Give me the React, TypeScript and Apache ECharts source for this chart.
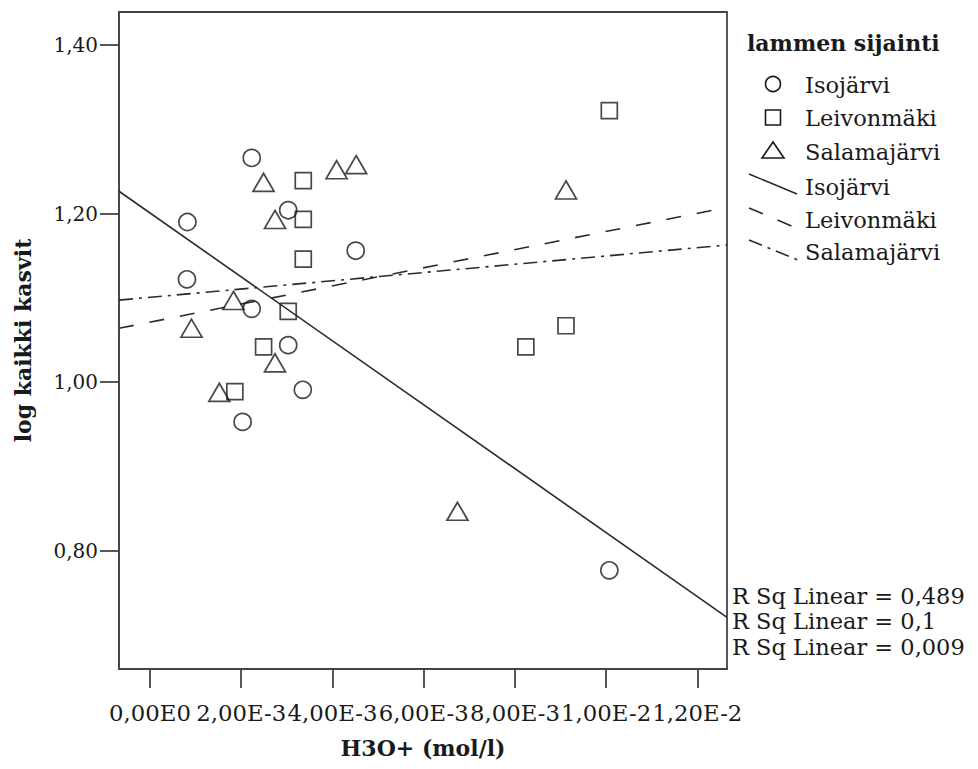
import React, { useEffect, useRef } from "react";
import * as echarts from "echarts";

// ---- data ----
const groupNames = ["Isojärvi", "Leivonmäki", "Salamajärvi"];

// H3O+ (mol/l)
const isojarviX = [0.00082, 0.00081, 0.00223, 0.00303, 0.00223, 0.00303, 0.00335, 0.00451, 0.00203, 0.01007];
const isojarviY = [1.19, 1.122, 1.266, 1.204, 1.087, 1.044, 0.991, 1.156, 0.953, 0.777];

const leivonmakiX = [0.01007, 0.00336, 0.00336, 0.00336, 0.00303, 0.00249, 0.00186, 0.00824, 0.00912];
const leivonmakiY = [1.322, 1.239, 1.193, 1.146, 1.084, 1.042, 0.989, 1.042, 1.067];

const salamajarviX = [0.00249, 0.00274, 0.00409, 0.00452, 0.00183, 0.00091, 0.00274, 0.00152, 0.00674, 0.00912];
const salamajarviY = [1.237, 1.193, 1.252, 1.258, 1.097, 1.064, 1.023, 0.988, 0.847, 1.228];

const xTickValues = [0, 0.002, 0.004, 0.006, 0.008, 0.01, 0.012];
const xTickLabels = ["0,00E0", "2,00E-3", "4,00E-3", "6,00E-3", "8,00E-3", "1,00E-2", "1,20E-2"];
const yTickValues = [0.8, 1.0, 1.2, 1.4];
const yTickLabels = ["0,80", "1,00", "1,20", "1,40"];

const rSqLabels = ["0,489", "0,1", "0,009"];

const X_MIN = -0.00068;
const X_MAX = 0.01265;
const Y_MIN = 0.66;
const Y_MAX = 1.439;

const FONT = "DejaVu Serif";
const INK = "#1a1a1a";
const LINE = "#2a2a2a";

function fitLine(xs: number[], ys: number[]) {
  const n = xs.length;
  const mx = xs.reduce((a, b) => a + b, 0) / n;
  const my = ys.reduce((a, b) => a + b, 0) / n;
  let sxx = 0;
  let sxy = 0;
  for (let i = 0; i < n; i++) {
    sxx += (xs[i] - mx) * (xs[i] - mx);
    sxy += (xs[i] - mx) * (ys[i] - my);
  }
  const b = sxy / sxx;
  const a = my - b * mx;
  return [
    [X_MIN, a + b * X_MIN],
    [X_MAX, a + b * X_MAX],
  ];
}

function pairs(xs: number[], ys: number[]) {
  return xs.map((x, i) => [x, ys[i]]);
}

function labelFor(values: number[], labels: string[]) {
  return (v: number) => {
    const i = values.findIndex((t) => Math.abs(t - v) < 1e-9);
    return i >= 0 ? labels[i] : "";
  };
}

export default function App() {
  const ref = useRef<HTMLDivElement>(null);

  useEffect(() => {
    if (!ref.current) return;
    const chart = echarts.init(ref.current, null, { renderer: "svg" });

    const markerStyle = {
      color: "rgba(0,0,0,0)",
      borderColor: INK,
      borderWidth: 1.7,
    };
    const lineStyles: any[] = [
      { type: "solid" },
      { type: [15, 16] },
      { type: [14, 6, 3, 6] },
    ];
    const xs = [isojarviX, leivonmakiX, salamajarviX];
    const ys = [isojarviY, leivonmakiY, salamajarviY];
    const symbols = ["circle", "rect", "triangle"];
    const sizes: any[] = [17, 16, [21, 18]];

    const scatterSeries = groupNames.map((name, i) => ({
      name,
      type: "scatter",
      data: pairs(xs[i], ys[i]),
      symbol: symbols[i],
      symbolSize: sizes[i],
      itemStyle: markerStyle,
      z: 3,
    }));
    const lineSeries = groupNames.map((name, i) => ({
      name: name + " fit",
      type: "line",
      data: fitLine(xs[i], ys[i]),
      symbol: "none",
      clip: true,
      lineStyle: { color: LINE, width: 1.6, ...lineStyles[i] },
      z: 2,
    }));

    const legendX = 749;
    const textX = 805;
    const txt = (x: number, y: number, text: string, extra: any = {}) => ({
      type: "text",
      x,
      y,
      style: {
        text,
        fill: INK,
        font: `22.5px "${FONT}"`,
        textVerticalAlign: "middle",
        verticalAlign: "middle",
        ...extra,
      },
    });
    const stroke = { fill: "none", stroke: INK, lineWidth: 1.6 };

    chart.setOption({
      animation: false,
      backgroundColor: "#fff",
      textStyle: { fontFamily: FONT },
      grid: {
        left: 119,
        top: 12,
        width: 608,
        height: 657,
        show: true,
        borderColor: "#444",
        borderWidth: 1.8,
        containLabel: false,
        outerBoundsMode: "none",
      },
      xAxis: {
        type: "value",
        min: X_MIN,
        max: X_MAX,
        name: "H3O+ (mol/l)",
        nameLocation: "middle",
        nameGap: 68,
        nameTextStyle: { fontFamily: FONT, fontWeight: "bold", fontSize: 22, color: INK },
        axisLine: { show: true, onZero: false, lineStyle: { color: "#444", width: 1.8 } },
        axisTick: {
          show: true,
          length: 19,
          customValues: xTickValues,
          lineStyle: { color: "#444", width: 1.8 },
        },
        axisLabel: {
          customValues: xTickValues,
          formatter: labelFor(xTickValues, xTickLabels),
          margin: 32,
          fontFamily: FONT,
          fontSize: 22.8,
          color: INK,
          hideOverlap: false,
          showMinLabel: true,
          showMaxLabel: true,
        },
        splitLine: { show: false },
      },
      yAxis: {
        type: "value",
        min: Y_MIN,
        max: Y_MAX,
        name: "log kaikki kasvit",
        nameLocation: "middle",
        nameGap: 85,
        nameTextStyle: { fontFamily: FONT, fontWeight: "bold", fontSize: 22, color: INK },
        axisLine: { show: true, onZero: false, lineStyle: { color: "#444", width: 1.8 } },
        axisTick: {
          show: true,
          length: 19,
          customValues: yTickValues,
          lineStyle: { color: "#444", width: 1.8 },
        },
        axisLabel: {
          customValues: yTickValues,
          formatter: labelFor(yTickValues, yTickLabels),
          margin: 21,
          fontFamily: FONT,
          fontSize: 20,
          color: INK,
          showMinLabel: true,
          showMaxLabel: true,
        },
        splitLine: { show: false },
      },
      series: [...scatterSeries, ...lineSeries],
      graphic: [
        txt(747, 43, "lammen sijainti", { font: `bold 22px "${FONT}"` }),
        { type: "circle", shape: { cx: 773, cy: 84, r: 7.5 }, style: stroke },
        { type: "rect", shape: { x: 765.5, y: 110, width: 15, height: 15 }, style: stroke },
        {
          type: "polygon",
          shape: { points: [[762, 158], [784, 158], [773, 142]] },
          style: stroke,
        },
        txt(textX, 85, groupNames[0]),
        txt(textX, 118, groupNames[1]),
        txt(textX, 152, groupNames[2]),
        {
          type: "line",
          shape: { x1: legendX, y1: 174, x2: 797, y2: 194 },
          style: { stroke: LINE, lineWidth: 1.6 },
        },
        {
          type: "line",
          shape: { x1: legendX, y1: 208, x2: 794, y2: 227 },
          style: { stroke: LINE, lineWidth: 1.6, lineDash: [15, 16] },
        },
        {
          type: "line",
          shape: { x1: legendX, y1: 240, x2: 798, y2: 260 },
          style: { stroke: LINE, lineWidth: 1.6, lineDash: [14, 6, 3, 6] },
        },
        txt(textX, 187, groupNames[0]),
        txt(textX, 220, groupNames[1]),
        txt(textX, 252, groupNames[2]),
        txt(732, 596, "R Sq Linear = " + rSqLabels[0]),
        txt(732, 621, "R Sq Linear = " + rSqLabels[1]),
        txt(732, 647, "R Sq Linear = " + rSqLabels[2]),
      ],
    });

    return () => chart.dispose();
  }, []);

  return (
    <div
      ref={ref}
      style={{ position: "fixed", left: 0, top: 0, width: 978, height: 769, background: "#fff" }}
    />
  );
}
